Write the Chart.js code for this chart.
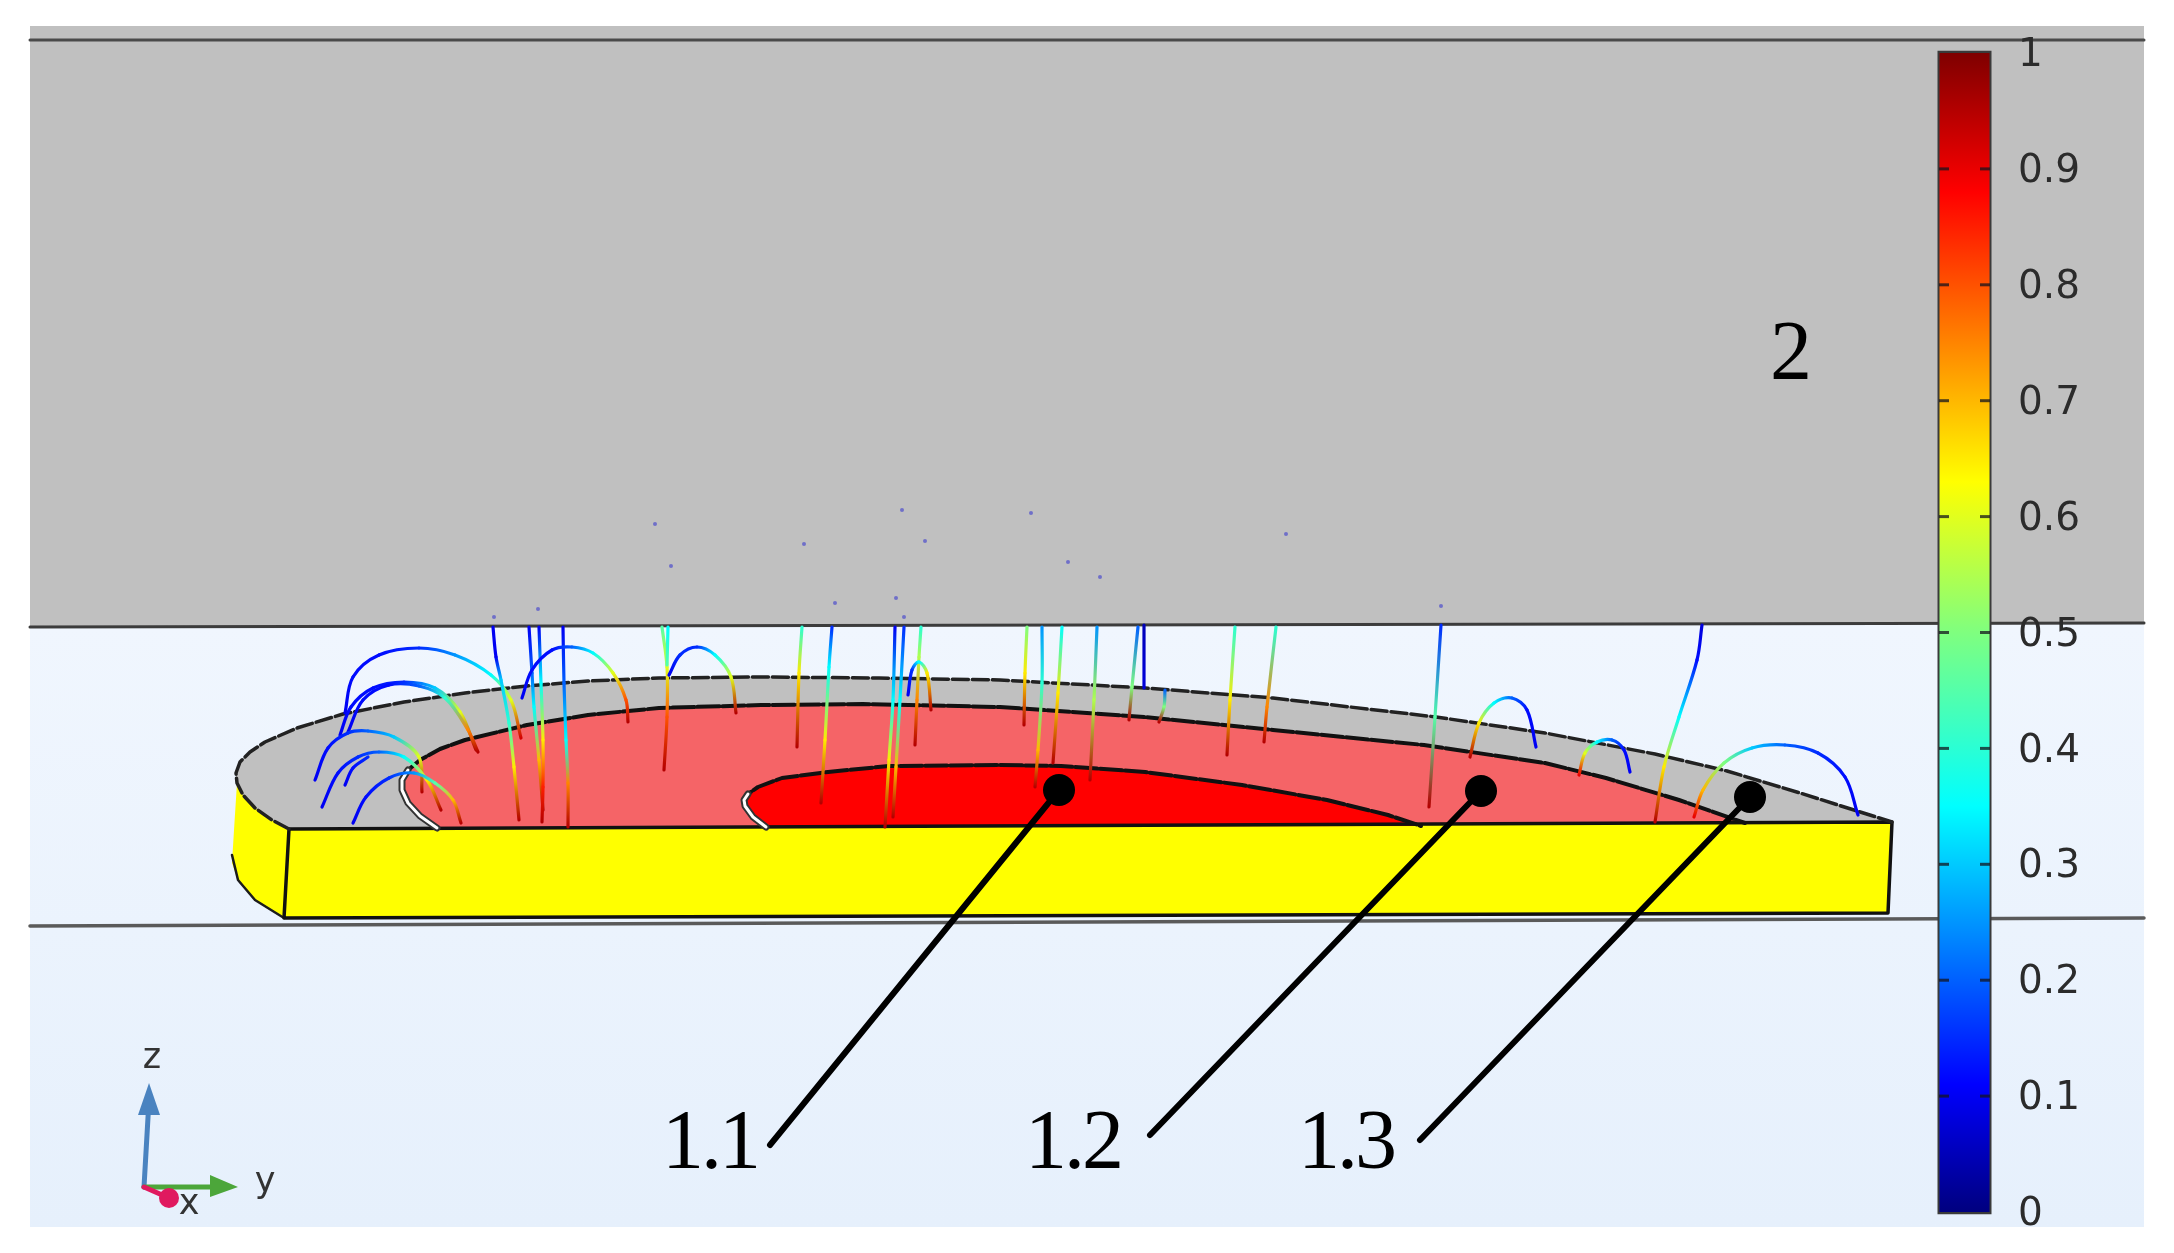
<!DOCTYPE html>
<html>
<head>
<meta charset="utf-8">
<title>Streamlines</title>
<script src="https://cdn.jsdelivr.net/npm/chart.js"></script>
<style>
html, body { margin: 0; padding: 0; background: #fff; }
canvas { display: block; }
</style>
</head>
<body>
<canvas id="grafica" width="2174" height="1253"></canvas>
<script>
// colour bar
const barTicks = [0, 0.1, 0.2, 0.3, 0.4, 0.5, 0.6, 0.7, 0.8, 0.9, 1];
const barMarks = [0.1, 0.2, 0.3, 0.4, 0.5, 0.6, 0.7, 0.8, 0.9];
const jetStops = [[0, '#00007f'], [0.11, '#0000ff'], [0.35, '#00ffff'], [0.5, '#7fff7f'], [0.63, '#ffff00'], [0.88, '#ff0000'], [1, '#7f0000']];

// model outlines
const grayRegion = [[30, 26], [2144, 26], [2144, 623], [30, 627]];
const airRegion = [[30, 627], [2144, 623], [2144, 1227], [30, 1227]];
const topLine = [[30, 40], [2144, 40]];
const midLine = [[30, 627], [2144, 623]];
const lowLine = [[30, 926], [2144, 918]];
const sideFace = [[289, 829], [272, 820], [255, 808], [243, 795], [237, 783], [234, 830], [232, 863], [238, 880], [255, 900], [284, 918]];
const sideEdge = [[232, 855], [238, 880], [255, 900], [284, 918]];
const frontFace = [[289, 829], [1892, 822], [1888, 913], [284, 918]];
const topFace = [[289, 829], [272, 820], [255, 808], [243, 795], [237, 783], [236, 773], [240, 762], [250, 752], [265, 742], [297, 728], [343, 714], [404, 702], [465, 693], [527, 686], [588, 681], [659, 678], [761, 677], [879, 678], [1000, 680], [1145, 688], [1273, 698], [1436, 717], [1545, 733], [1655, 754], [1727, 771], [1800, 793], [1892, 822]];
const midFace = [[437, 828], [420, 816], [408, 803], [402, 790], [402, 780], [408, 770], [420, 760], [440, 749], [465, 740], [527, 725], [588, 715], [659, 708], [761, 705], [863, 704], [1000, 707], [1145, 717], [1273, 730], [1424, 745], [1545, 763], [1606, 778], [1679, 800], [1745, 823]];
const innerFace = [[766, 827], [753, 817], [745, 806], [744, 800], [748, 794], [758, 787], [782, 778], [828, 772], [889, 766], [1000, 765], [1061, 766], [1145, 772], [1242, 785], [1327, 800], [1388, 815], [1421, 826]];
const midEdge = [[437, 828], [420, 816], [408, 803], [402, 790], [402, 780], [408, 770]];
const innerEdge = [[766, 827], [753, 817], [745, 806], [744, 800], [748, 794]];

// streamlines: x, y, value
const streamlines = [
  [[345, 713, .1], [353, 677, .12], [379, 655, .12], [419, 648, .15], [455, 655, .25], [491, 675, .35], [511, 700, .6], [521, 738, .92]],
  [[340, 735, .1], [351, 707, .12], [373, 688, .12], [404, 682, .15], [435, 688, .3], [460, 712, .6], [476, 750, .95]],
  [[348, 732, .1], [363, 700, .12], [389, 685, .12], [419, 686, .2], [445, 698, .4], [468, 730, .75], [478, 752, .95]],
  [[315, 780, .1], [328, 748, .12], [348, 733, .15], [368, 731, .2], [394, 737, .3], [419, 757, .6], [422, 792, .95]],
  [[322, 807, .1], [338, 773, .12], [358, 757, .15], [379, 752, .2], [404, 757, .35], [427, 780, .65], [441, 810, .95]],
  [[345, 785, .1], [353, 768, .12], [368, 757, .15]],
  [[353, 823, .1], [366, 797, .12], [389, 778, .15], [414, 773, .25], [435, 783, .45], [453, 800, .7], [461, 823, .95]],
  [[493, 627, .1], [496, 657, .1], [501, 680, .3], [509, 723, .4], [514, 767, .65], [519, 820, .95]],
  [[529, 627, .1], [532, 673, .2], [534, 707, .35], [539, 760, .7], [543, 810, .95]],
  [[539, 627, .1], [541, 683, .35], [543, 740, .65], [543, 787, .85], [542, 822, .95]],
  [[563, 627, .1], [564, 683, .2], [566, 740, .35], [568, 783, .75], [568, 827, .95]],
  [[522, 698, .1], [532, 670, .12], [552, 650, .12], [572, 647, .2], [593, 653, .35], [613, 673, .6], [626, 700, .8], [628, 722, .95]],
  [[662, 627, .45], [667, 667, .6], [667, 717, .8], [664, 770, .95]],
  [[668, 627, .35], [667, 665, .45]],
  [[669, 675, .1], [680, 655, .15], [697, 647, .15], [715, 655, .35], [731, 677, .6], [736, 713, .95]],
  [[802, 627, .4], [799, 673, .65], [797, 747, .95]],
  [[832, 627, .15], [829, 667, .35], [825, 740, .65], [821, 803, .95]],
  [[895, 627, .1], [893, 700, .35], [889, 760, .65], [885, 827, .95]],
  [[904, 627, .15], [900, 700, .35], [896, 767, .7], [893, 817, .95]],
  [[921, 627, .4], [919, 657, .55], [917, 700, .75], [915, 745, .95]],
  [[908, 695, .1], [912, 670, .15], [919, 662, .35], [927, 673, .65], [931, 710, .95]],
  [[1027, 627, .5], [1025, 673, .65], [1024, 725, .95]],
  [[1042, 627, .25], [1042, 683, .4], [1038, 750, .7], [1035, 787, .95]],
  [[1062, 627, .35], [1058, 693, .65], [1053, 763, .95]],
  [[1097, 627, .25], [1094, 700, .55], [1090, 780, .95]],
  [[1138, 627, .2], [1132, 687, .5], [1129, 720, .95]],
  [[1144, 625, .05], [1144, 688, .08]],
  [[1165, 690, .2], [1164, 707, .5], [1159, 722, .95]],
  [[1235, 627, .4], [1230, 700, .65], [1227, 755, .95]],
  [[1276, 627, .4], [1267, 707, .75], [1264, 742, .95]],
  [[1441, 625, .15], [1435, 717, .45], [1429, 807, .95]],
  [[1470, 757, .95], [1479, 723, .65], [1494, 703, .35], [1512, 698, .2], [1527, 710, .12], [1536, 747, .1]],
  [[1579, 775, .9], [1585, 753, .6], [1597, 742, .35], [1612, 740, .2], [1624, 750, .12], [1630, 772, .1]],
  [[1702, 625, .08], [1697, 660, .12], [1679, 717, .35], [1664, 767, .65], [1655, 822, .95]],
  [[1694, 817, .9], [1703, 790, .7], [1724, 763, .5], [1752, 748, .3], [1785, 745, .2], [1818, 753, .15], [1845, 777, .12], [1858, 815, .1]]
];
const strayPoints = [[655, 524], [902, 510], [1031, 513], [925, 541], [804, 544], [671, 566], [1068, 562], [1100, 577], [1286, 534], [835, 603], [896, 598], [904, 617], [1441, 606], [538, 609], [494, 617]];

// call-outs
const callouts = [
  [[1059, 790], [770, 1145]],
  [[1481, 791], [1150, 1135]],
  [[1750, 797], [1420, 1140]]
];
const calloutLabels = [['1.1', 662, 1168], ['1.2', 1025, 1168], ['1.3', 1298, 1168], ['2', 1770, 379]];

// axes triad
const triadZ = [[144, 1187], [149, 1100]];
const triadY = [[144, 1187], [220, 1187]];
const triadX = [[144, 1187], [169, 1198]];
const triadZHead = [[149, 1083], [138, 1115], [160, 1115]];
const triadYHead = [[238, 1187], [210, 1175], [210, 1197]];
const triadLabels = [['z', 152, 1059], ['y', 265, 1183], ['x', 189, 1205]];

const aPuntos = (lista) => lista.map((p) => ({ x: p[0], y: p[1] }));

const colorJet = (v) => {
    for (let i = 1; i < jetStops.length; i++) {
        if (v <= jetStops[i][0]) {
            const [v0, c0] = jetStops[i - 1];
            const [v1, c1] = jetStops[i];
            const t = (v - v0) / (v1 - v0);
            const canal = (k) => {
                const a = parseInt(c0.substr(k, 2), 16);
                const b = parseInt(c1.substr(k, 2), 16);
                return Math.round(a + (b - a) * t);
            };
            return `rgb(${canal(1)},${canal(3)},${canal(5)})`;
        }
    }
    return jetStops[jetStops.length - 1][1];
};

const poligono = (lista, color) => ({
    data: aPuntos(lista.concat([lista[0]])),
    showLine: true, fill: 'shape', backgroundColor: color,
    borderWidth: 0, pointRadius: 0
});
const linea = (lista, color, ancho, extra) => Object.assign({
    data: aPuntos(lista),
    showLine: true, fill: false, borderColor: color,
    borderWidth: ancho, pointRadius: 0, clip: false
}, extra);

const fondoAire = (ctx) => {
    const g = ctx.chart.ctx.createLinearGradient(0, 627, 0, 1227);
    g.addColorStop(0, '#f0f6fe');
    g.addColorStop(1, '#e6f0fc');
    return g;
};

const lineaCorriente = (puntos) => ({
    data: aPuntos(puntos),
    showLine: true, fill: false, borderWidth: 3.2, pointRadius: 0,
    tension: 0.35,
    borderColor: colorJet(puntos[0][2]),
    segment: {
        borderColor: (ctx) => {
            if (!Number.isFinite(ctx.p0.x) || !Number.isFinite(ctx.p1.x)) return undefined;
            const g = ctx.chart.ctx.createLinearGradient(ctx.p0.x, ctx.p0.y, ctx.p1.x, ctx.p1.y);
            g.addColorStop(0, colorJet(puntos[ctx.p0DataIndex][2]));
            g.addColorStop(1, colorJet(puntos[ctx.p1DataIndex][2]));
            return g;
        }
    }
});

const barraX = 1964.5;
const gradienteBarra = (ctx) => {
    const { chartArea, scales } = ctx.chart;
    if (!chartArea) return '#000';
    const p0 = scales.yBar.getPixelForValue(0);
    const p1 = scales.yBar.getPixelForValue(1);
    if (!Number.isFinite(p0) || !Number.isFinite(p1)) return '#000';
    const g = ctx.chart.ctx.createLinearGradient(0, p0, 0, p1);
    jetStops.forEach(([v, c]) => g.addColorStop(v, c));
    return g;
};

const capas = [
    poligono(airRegion, fondoAire),
    poligono(grayRegion, '#c0c0c0'),
    linea(topLine, '#4a4a4a', 3),
    linea(midLine, '#3c3c3c', 3),
    linea(lowLine, '#5a5a5a', 3.5),
    poligono(sideFace, '#ffff00'),
    poligono(frontFace, '#ffff00'),
    poligono(topFace, '#c0c0c0'),
    poligono(midFace, '#f56467'),
    poligono(innerFace, '#ff0000'),
    linea(sideEdge, '#1c1c1c', 2.5),
    linea(frontFace.concat([frontFace[0]]), '#111', 3.5),
    linea(topFace, '#222', 3.5, { borderDash: [16, 4] }),
    linea(midFace, '#111', 4, { borderDash: [22, 3] }),
    linea(innerFace, '#111', 4, { borderDash: [22, 3] }),
    linea(midEdge, '#333', 7),
    linea(midEdge, '#fff', 3),
    linea(innerEdge, '#333', 7),
    linea(innerEdge, '#fff', 3)
];
streamlines.forEach((s) => capas.push(lineaCorriente(s)));
capas.push({ data: aPuntos(strayPoints), showLine: false, pointRadius: 2, pointBackgroundColor: '#6f6fc8', pointBorderWidth: 0 });

callouts.forEach((c) => {
    capas.push(linea(c, '#000', 6));
    capas.push({ data: aPuntos([c[0]]), showLine: false, pointRadius: 16, pointBackgroundColor: '#000', pointBorderWidth: 0 });
});

capas.push(linea(triadZ, '#4a83c0', 5));
capas.push(linea(triadY, '#4ca63a', 5));
capas.push(linea(triadX, '#e0195f', 5));
capas.push(poligono(triadZHead, '#4a83c0'));
capas.push(poligono(triadYHead, '#4ca63a'));
capas.push({ data: aPuntos([triadX[1]]), showLine: false, pointRadius: 10, pointBackgroundColor: '#e0195f', pointBorderWidth: 0 });

// colour bar: thick line on its own value scale
capas.push({
    yAxisID: 'yBar', data: [{ x: barraX, y: -0.002 }, { x: barraX, y: 1.002 }],
    showLine: true, borderColor: '#3a3a3a', borderWidth: 54, pointRadius: 0, borderCapStyle: 'butt'
});
capas.push({
    yAxisID: 'yBar', data: [{ x: barraX, y: 0 }, { x: barraX, y: 1 }],
    showLine: true, borderColor: gradienteBarra, borderWidth: 50, pointRadius: 0, borderCapStyle: 'butt'
});
[1939, 1980].forEach((x) => capas.push({
    yAxisID: 'yBar', data: barMarks.map((v) => ({ x: x, y: v })),
    showLine: false, pointStyle: 'dash', pointRadius: 10, pointBorderWidth: 3, pointBorderColor: 'rgba(20,20,30,0.75)'
}));

capas.forEach((d, i) => { d.order = -i; });

const textos = {
    id: 'textos',
    afterDatasetsDraw(chart) {
        const { ctx, scales } = chart;
        ctx.save();
        ctx.textBaseline = 'alphabetic';
        ctx.fillStyle = '#000';
        ctx.font = '84px "Liberation Serif"';
        ctx.letterSpacing = '-3px';
        calloutLabels.forEach(([t, x, y]) => ctx.fillText(t, scales.x.getPixelForValue(x), scales.y.getPixelForValue(y)));
        ctx.letterSpacing = '0px';
        ctx.textAlign = 'center';
        ctx.textBaseline = 'middle';
        ctx.fillStyle = '#333';
        ctx.font = '35px "DejaVu Sans"';
        triadLabels.forEach(([t, x, y]) => ctx.fillText(t, scales.x.getPixelForValue(x), scales.y.getPixelForValue(y)));
        ctx.restore();
    }
};

new Chart(document.getElementById('grafica'), {
    type: 'scatter',
    data: { datasets: capas },
    plugins: [textos],
    options: {
        responsive: false,
        animation: false,
        devicePixelRatio: 1,
        layout: { autoPadding: false, padding: 0 },
        plugins: { legend: { display: false }, tooltip: { enabled: false }, title: { display: false } },
        elements: { line: { borderCapStyle: 'round', borderJoinStyle: 'round' } },
        scales: {
            x: { type: 'linear', min: 0, max: 2174, display: false },
            y: { type: 'linear', min: 0, max: 1253, reverse: true, display: false },
            yBar: {
                type: 'linear', position: 'left',
                // value 0 sits at pixel 1212, value 1 at pixel 53
                min: -0.03537, max: 1.04573,
                grid: { display: false, drawTicks: false },
                border: { display: false },
                afterBuildTicks: (eje) => { eje.ticks = barTicks.map((v) => ({ value: v })); },
                // labels are mirrored into the plot, the axis itself takes no room
                afterFit: (eje) => {
                    eje.width = 0;
                    eje.paddingTop = 0;
                    eje.paddingBottom = 0;
                },
                ticks: {
                    mirror: true, padding: 2018, z: 1, autoSkip: false, labelOffset: 3,
                    color: '#2b2b2b', font: { family: 'DejaVu Sans', size: 39 },
                    callback: (v) => String(v)
                }
            }
        }
    }
});
</script>
</body>
</html>
